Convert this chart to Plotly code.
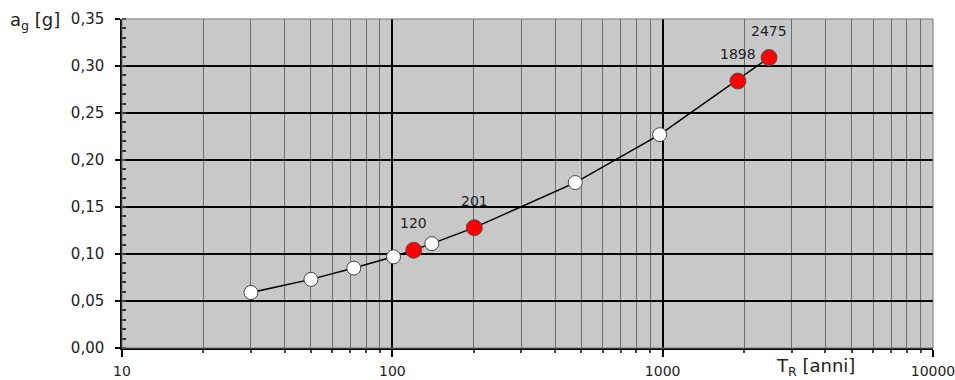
import math
import plotly.graph_objects as go

# Data
tr_all = [30, 50, 72, 101, 140, 201, 475, 975, 2475]
ag_all = [0.059, 0.073, 0.085, 0.097, 0.111, 0.128, 0.176, 0.227, 0.309]

tr_red = [120, 201, 1898, 2475]
ag_red = [0.104, 0.128, 0.284, 0.309]
red_labels = ["120", "201", "1898", "2475"]

x_ticks = [10, 100, 1000, 10000]
x_ticklabels = ["10", "100", "1000", "10000"]
y_ticks = [0.0, 0.05, 0.10, 0.15, 0.20, 0.25, 0.30, 0.35]

FONT = "DejaVu Sans, Liberation Sans, Arial, sans-serif"

fig = go.Figure()

fig.add_trace(go.Scatter(
    x=tr_all, y=ag_all, mode="lines+markers",
    line=dict(color="black", width=1.5),
    marker=dict(size=14, color="white", line=dict(color="#444444", width=1)),
    showlegend=False, hoverinfo="x+y",
))

fig.add_trace(go.Scatter(
    x=tr_red, y=ag_red, mode="markers",
    marker=dict(size=16, color="#ff0000", line=dict(color="#555555", width=1)),
    showlegend=False, hoverinfo="x+y",
))

# Labels for red points (log axis -> annotation x in log10 units)
for xv, yv, lab in zip(tr_red, ag_red, red_labels):
    fig.add_annotation(
        x=math.log10(xv), y=yv, xref="x", yref="y", text=lab, showarrow=False,
        yshift=27, font=dict(family=FONT, size=14, color="#222222"),
    )

fig.update_xaxes(
    type="log", range=[1, 4],
    tickvals=x_ticks, ticktext=x_ticklabels,
    showgrid=True, gridcolor="black", gridwidth=1.5,
    showline=True, linecolor="black", linewidth=1.5,
    ticks="outside", ticklen=7, tickcolor="black", tickwidth=1.5,
    tickfont=dict(family=FONT, size=14, color="#222222"),
    ticklabelstandoff=2, ticklabeloverflow="allow", automargin=False,
    minor=dict(dtick="D1", showgrid=True, gridcolor="#6e6e6e", gridwidth=1,
               ticks="outside", ticklen=3, tickcolor="#444444"),
    zeroline=False,
)

fig.update_yaxes(
    range=[0, 0.35], tickvals=y_ticks, tickformat=".2f",
    showgrid=True, gridcolor="black", gridwidth=1.5,
    showline=True, linecolor="black", linewidth=1.5,
    ticks="outside", ticklen=5, tickcolor="black", tickwidth=1.5,
    tickfont=dict(family=FONT, size=15, color="#222222"),
    ticklabelstandoff=8, automargin=False,
    minor=dict(dtick=0.01, showgrid=False, ticks="inside", ticklen=4,
               tickcolor="#333333"),
    zeroline=False,
)

# Frame top/right
fig.add_shape(type="rect", xref="paper", yref="paper", x0=0, y0=0, x1=1, y1=1,
              line=dict(color="#777777", width=1), layer="above")

fig.add_annotation(xref="paper", yref="paper", x=-0.074, y=0.995, xanchor="right",
                   yanchor="middle", showarrow=False,
                   text="a<sub>g</sub> [g]",
                   font=dict(family=FONT, size=18, color="#222222"))
fig.add_annotation(xref="paper", yref="paper", x=0.855, y=-0.058, xanchor="center",
                   yanchor="middle", showarrow=False,
                   text="T<sub>R</sub> [anni]",
                   font=dict(family=FONT, size=18, color="#222222"))

fig.update_layout(
    width=955, height=380,
    margin=dict(l=122, r=22, t=19, b=32, autoexpand=False),
    plot_bgcolor="#c8c8c8", paper_bgcolor="white",
    separators=",.",
    font=dict(family=FONT),
)

fig.write_html("out.html")
